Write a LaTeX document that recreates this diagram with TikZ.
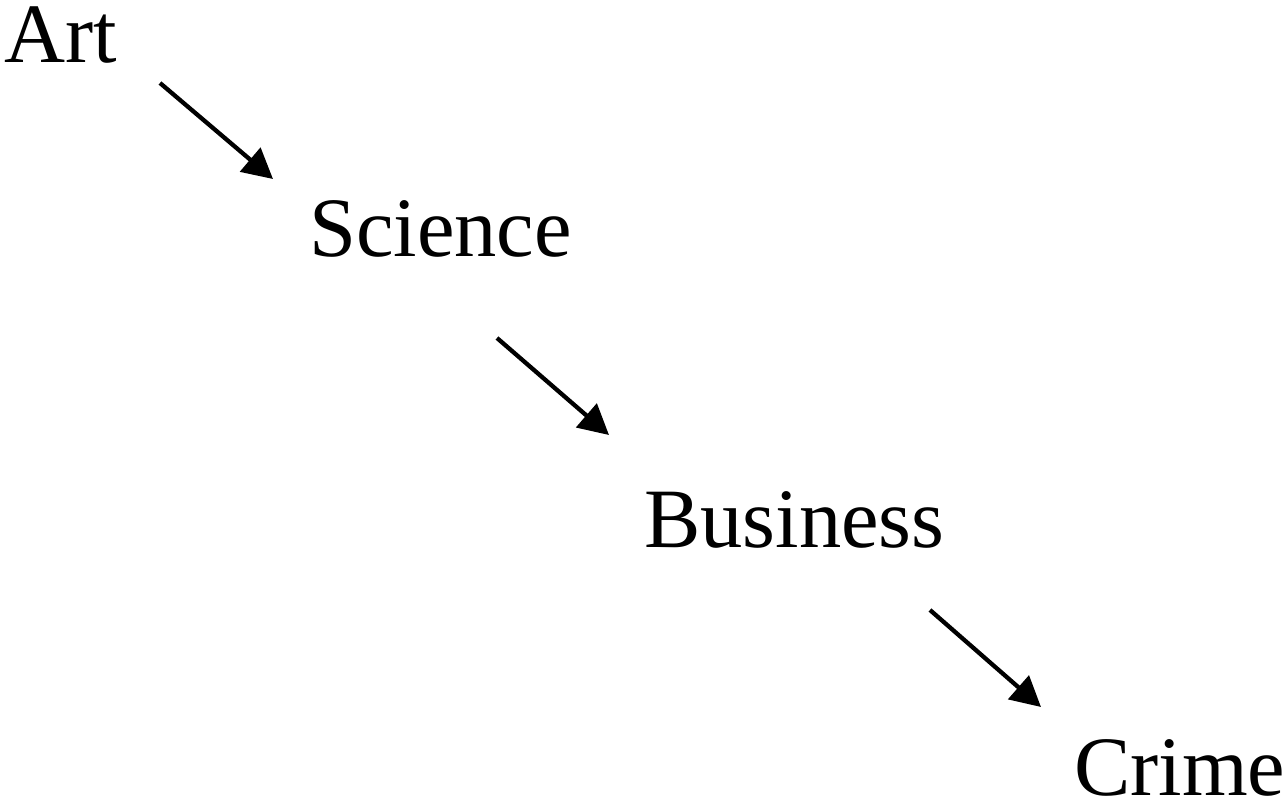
\documentclass[tikz,border=0pt]{standalone}
\usepackage{fontspec}
\setmainfont{Liberation Serif}
\usetikzlibrary{arrows.meta}
\begin{document}
\begin{tikzpicture}[x=1pt,y=1pt,
  word/.style={inner sep=0pt,anchor=base west,font=\fontsize{84.5}{90}\selectfont},
  arr/.style={line width=4.3pt,-{Triangle[length=30pt,width=31pt]}}]
\useasboundingbox (0,0) rectangle (1288,-808);
\node[word] (art) at (4,-63) {Art};
\node[word] (science) at (309,-256) {Science};
\node[word] (business) at (644,-547) {Business};
\node[word] (crime) at (1074,-795) {Crime};
\coordinate (a1s) at (160,-83);
\coordinate (a1e) at (273,-179);
\coordinate (a2s) at (497,-338);
\coordinate (a2e) at (609,-435);
\coordinate (a3s) at (930,-610);
\coordinate (a3e) at (1041,-707);
\draw[arr] (a1s) -- (a1e);
\draw[arr] (a2s) -- (a2e);
\draw[arr] (a3s) -- (a3e);
\end{tikzpicture}
\end{document}
